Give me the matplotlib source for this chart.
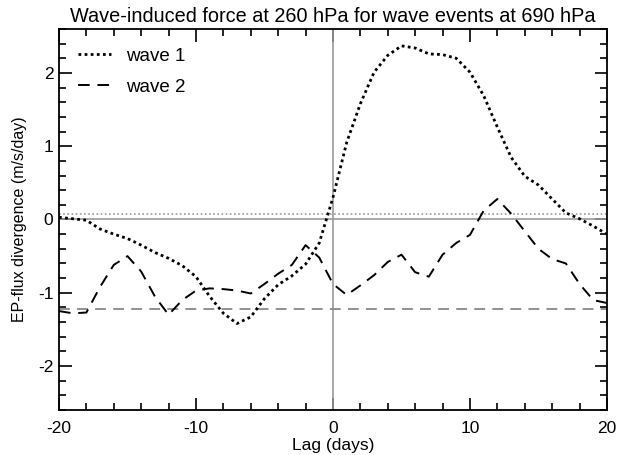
import matplotlib
matplotlib.use("Agg")
import matplotlib.pyplot as plt
import numpy as np

# lag in days and the two composite curves (m/s/day)
lags = list(range(-20, 21))
wave1 = [0.03, 0.01, -0.01, -0.13, -0.20, -0.26, -0.35, -0.45, -0.53, -0.63,
         -0.78, -1.05, -1.28, -1.42, -1.33, -1.08, -0.89, -0.77, -0.61, -0.32,
         0.30, 1.05, 1.58, 2.01, 2.24, 2.37, 2.34, 2.26, 2.25, 2.20,
         2.01, 1.69, 1.26, 0.85, 0.59, 0.47, 0.28, 0.09, 0.01, -0.09,
         -0.20]
wave2 = [-1.25, -1.28, -1.27, -0.92, -0.62, -0.50, -0.71, -1.05, -1.30, -1.10,
         -0.97, -0.94, -0.95, -0.97, -1.01, -0.88, -0.74, -0.62, -0.35, -0.52,
         -0.88, -1.03, -0.90, -0.76, -0.58, -0.48, -0.72, -0.78, -0.48, -0.32,
         -0.21, 0.12, 0.28, 0.08, -0.16, -0.40, -0.54, -0.60, -0.88, -1.10,
         -1.14]
# significance levels
sig1 = 0.08
sig2 = -1.22

plt.rcParams["font.family"] = ["Liberation Sans", "DejaVu Sans"]
plt.rcParams["axes.unicode_minus"] = False

fig = plt.figure(figsize=(6.26, 4.55), dpi=100)
ax = fig.add_axes([0.0942, 0.0989, 0.8754, 0.8374])

ax.axhline(0, color="#999999", lw=1.2)
ax.axvline(0, color="#999999", lw=1.2)
ax.axhline(sig1, color="#999999", lw=1.2, ls=(0, (1, 1.5)))
ax.axhline(sig2, color="#888888", lw=1.3, ls=(0, (6, 4)))

ax.plot(lags, wave1, color="black", lw=2.0, ls=(0, (1, 1.2)), label="wave 1")
ax.plot(lags, wave2, color="black", lw=1.4, ls=(0, (6, 4)), label="wave 2")

ax.set_xlim(-20, 20)
ax.set_ylim(-2.6, 2.6)
ax.set_xticks([-20, -10, 0, 10, 20])
ax.set_xticks(np.arange(-20, 21, 2), minor=True)
ax.set_yticks([-2, -1, 0, 1, 2])
ax.set_yticks(np.arange(-2.6, 2.61, 0.2), minor=True)
ax.tick_params(which="both", direction="in", top=True, right=True,
               labelsize=12.5, width=1.2)
ax.tick_params(which="major", length=9)
ax.tick_params(axis="x", which="major", pad=8)
ax.tick_params(axis="y", which="major", pad=4)
ax.tick_params(which="minor", length=5)
for s in ax.spines.values():
    s.set_linewidth(1.3)

ax.set_xlabel("Lag (days)", fontsize=12.5, labelpad=1)
ax.set_ylabel("EP-flux divergence (m/s/day)", fontsize=11.5, labelpad=8)
ax.set_title("Wave-induced force at 260 hPa for wave events at 690 hPa",
             fontsize=14.3, pad=5)

ax.legend(loc="upper left", frameon=False, fontsize=13.5, handlelength=1.8,
          handletextpad=0.8, labelspacing=0.75, borderaxespad=0.6)

fig.savefig("out.png", dpi=100)
